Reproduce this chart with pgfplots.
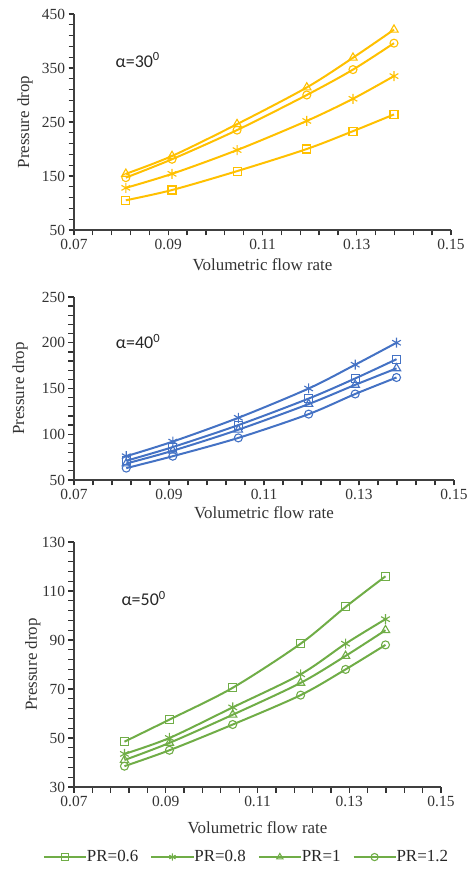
\documentclass[border=0pt]{standalone}
\usepackage{fontspec}
\setmainfont{Liberation Serif}
\newfontfamily\calibri{Carlito}
\usepackage{pgfplots}
\pgfplotsset{compat=1.18}
\definecolor{cY}{HTML}{FFC000}
\definecolor{cB}{HTML}{4472C4}
\definecolor{cG}{HTML}{70AD47}
\pgfplotsset{
  every tick/.append style={draw=black!80, line width=1.3bp},
  base/.style={
    scale only axis,
    axis x line*=bottom, axis y line*=left,
    axis line style={black!75, line width=1.3bp},
    xmin=0.07, xmax=0.15,
    xtick={0.07,0.09,0.11,0.13,0.15},
    minor xtick={0.074,0.078,...,0.1465},
    xtick align=outside, ytick align=outside,
    major tick length=5.5bp, minor tick length=5.5bp,
    xtick style={draw=black!80, line width=1.3bp},
    ytick style={draw=black!80, line width=1.3bp},
    xticklabel style={/pgf/number format/fixed,/pgf/number format/precision=2,/pgf/number format/fixed zerofill, /pgf/number format/assume math mode=true, font=\fontsize{15.5}{17}\selectfont, text=black!80},
    yticklabel style={/pgf/number format/assume math mode=true, font=\fontsize{15.5}{17}\selectfont, text=black!80},
    label style={font=\fontsize{17}{19}\selectfont, text=black!80},
    xlabel={Volumetric flow rate},
    ylabel={Pressure drop},
    every axis plot/.append style={smooth, line width=2bp, mark size=4bp, mark options={solid, line width=1.1bp, fill=none}},
    clip=false,
  },
  sq/.style={mark=square},
  st/.style={mark=asterisk, mark size=5bp},
  tr/.style={mark=triangle, mark size=4.8bp},
  ci/.style={mark=o},
}
\begin{document}
\begin{tikzpicture}
\useasboundingbox (0bp,0bp) rectangle (472bp,881bp);
% Panel 1
\begin{axis}[base, at={(74bp,651bp)}, anchor=south west, width=377bp, height=216bp,
  ymin=50, ymax=450, ytick={50,150,250,350,450}, minor ytick={70,90,...,430},
  xlabel style={at={(axis description cs:0.5,-0.162)}, anchor=center},
  ylabel style={at={(axis description cs:-0.130,0.5)}, anchor=center}]
\addplot[cY, sq] coordinates {(0.081,105) (0.0908,124) (0.1046,159) (0.1194,200) (0.1292,233) (0.1379,264)};
\addplot[cY, st] coordinates {(0.081,128) (0.0908,154) (0.1046,198) (0.1194,252) (0.1292,293) (0.1379,335)};
\addplot[cY, tr] coordinates {(0.081,154) (0.0908,187) (0.1046,246) (0.1194,314) (0.1292,369) (0.1379,421)};
\addplot[cY, ci] coordinates {(0.081,147) (0.0908,181) (0.1046,235) (0.1194,300) (0.1292,347) (0.1379,396)};
\node[anchor=west, font=\calibri\fontsize{18}{20}\selectfont, text=black!85] at (axis cs:0.0781,365) {α=30\textsuperscript{0}};
\end{axis}
% Panel 2
\begin{axis}[base, at={(74bp,401bp)}, anchor=south west, width=380bp, height=183bp,
  ymin=50, ymax=250, ytick={50,100,150,200,250}, minor ytick={60,70,...,240},
  xlabel style={at={(axis description cs:0.5,-0.180)}, anchor=center},
  ylabel style={at={(axis description cs:-0.142,0.5)}, anchor=center}]
\addplot[cB, sq] coordinates {(0.081,71) (0.0908,86) (0.1046,110) (0.1194,139) (0.1292,161) (0.1379,182)};
\addplot[cB, st] coordinates {(0.081,76) (0.0908,92) (0.1046,118) (0.1194,150) (0.1292,176) (0.1379,200)};
\addplot[cB, tr] coordinates {(0.081,68) (0.0908,82) (0.1046,105) (0.1194,133) (0.1292,154) (0.1379,172)};
\addplot[cB, ci] coordinates {(0.081,63) (0.0908,76) (0.1046,96) (0.1194,122) (0.1292,144) (0.1379,162)};
\node[anchor=west, font=\calibri\fontsize{18}{20}\selectfont, text=black!85] at (axis cs:0.0781,201) {α=40\textsuperscript{0}};
\end{axis}
% Panel 3
\begin{axis}[base, at={(74bp,94bp)}, anchor=south west, width=367bp, height=245bp,
  ymin=30, ymax=130, ytick={30,50,70,90,110,130}, minor ytick={34,38,...,127},
  xlabel style={at={(axis description cs:0.5,-0.167)}, anchor=center},
  ylabel style={at={(axis description cs:-0.112,0.5)}, anchor=center},
  legend columns=4,
  legend style={at={(axis description cs:0.47,-0.286)}, anchor=center, draw=none, fill=none,
    font=\fontsize{17}{19}\selectfont, text=black!85,
    /tikz/every even column/.append style={column sep=10bp},
    /tikz/every odd column/.append style={column sep=-2bp}},
  legend image code/.code={\draw[mark repeat=2, mark phase=2, mark size=3.6bp, line width=2bp] plot coordinates {(0bp,0bp) (21bp,0bp) (42bp,0bp)};}]
\addplot[cG, sq] coordinates {(0.081,48.5) (0.0908,57.5) (0.1046,70.5) (0.1194,88.5) (0.1292,103.5) (0.1379,116)};
\addplot[cG, st] coordinates {(0.081,43.5) (0.0908,50) (0.1046,62.5) (0.1194,76) (0.1292,88.5) (0.1379,98.5)};
\addplot[cG, tr] coordinates {(0.081,41) (0.0908,48) (0.1046,59.5) (0.1194,72.5) (0.1292,83.5) (0.1379,94)};
\addplot[cG, ci] coordinates {(0.081,38.5) (0.0908,45) (0.1046,55.5) (0.1194,67.5) (0.1292,78) (0.1379,88)};
\legend{PR=0.6, PR=0.8, PR=1, PR=1.2}
\node[anchor=west, font=\calibri\fontsize{18}{20}\selectfont, text=black!85] at (axis cs:0.0796,107) {α=50\textsuperscript{0}};
\end{axis}
\end{tikzpicture}
\end{document}
